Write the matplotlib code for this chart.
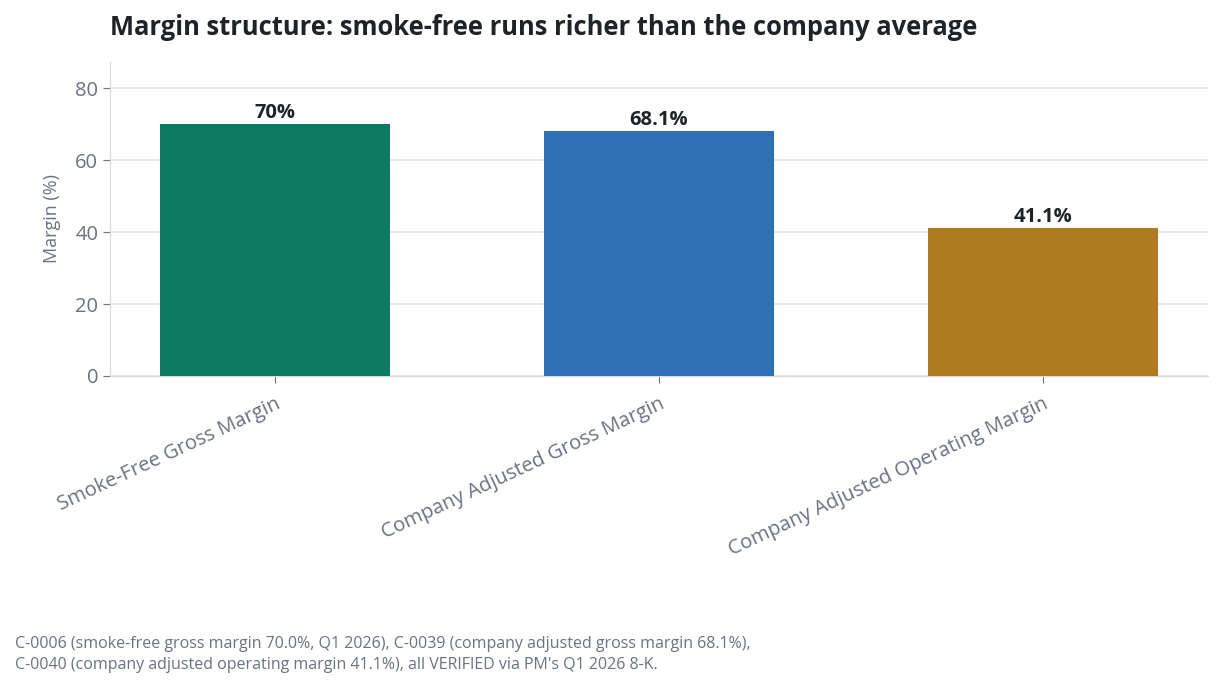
import matplotlib
matplotlib.use("Agg")
import matplotlib.pyplot as plt

categories = ["Smoke-Free Gross Margin", "Company Adjusted Gross Margin",
              "Company Adjusted Operating Margin"]
margins = [70.0, 68.1, 41.1]
value_labels = ["70%", "68.1%", "41.1%"]
bar_colors = ["#0f7a62", "#2e70b4", "#b07b20"]

plt.rcParams['font.family'] = ['Open Sans', 'DejaVu Sans']

fig = plt.figure(figsize=(12.22, 6.89), dpi=100)
ax = fig.add_axes([0.090, 0.4543, 0.8985, 0.456])

x = range(len(categories))
bars = ax.bar(x, margins, width=0.6, color=bar_colors, zorder=3)
for b, lab in zip(bars, value_labels):
    ax.annotate(lab, (b.get_x() + b.get_width() / 2, b.get_height()),
                xytext=(0, 1), textcoords="offset points", ha="center", va="bottom",
                fontsize=14.5, fontweight="bold", color="#1f2328")

ax.set_ylim(0, 87.3)
ax.set_yticks([0, 20, 40, 60, 80])
ax.set_xticks(list(x))
ax.set_xticklabels(categories, rotation=25, ha="right", rotation_mode="anchor")
ax.tick_params(axis="y", labelsize=14.5, colors="#6b7280", length=5)
ax.tick_params(axis="x", labelsize=14.6, colors="#6b7280", length=5, pad=8)
ax.set_ylabel("Margin (%)", fontsize=13, color="#6b7280", labelpad=10)
ax.grid(axis="y", color="#e6e3df", linewidth=1.2, zorder=0)
ax.set_axisbelow(True)
for s in ["top", "right"]:
    ax.spines[s].set_visible(False)
for s in ["left", "bottom"]:
    ax.spines[s].set_color("#dcd9d5")

fig.text(0.090, 0.96, "Margin structure: smoke-free runs richer than the company average",
         fontsize=18.4, fontweight="bold", color="#1f2328", ha="left", va="center")
fig.text(0.012, 0.05,
         "C-0006 (smoke-free gross margin 70.0%, Q1 2026), C-0039 (company adjusted gross margin 68.1%),\n"
         "C-0040 (company adjusted operating margin 41.1%), all VERIFIED via PM's Q1 2026 8-K.",
         fontsize=11.5, color="#6b7280", ha="left", va="center", linespacing=1.45)

fig.savefig("out.png", dpi=100)
